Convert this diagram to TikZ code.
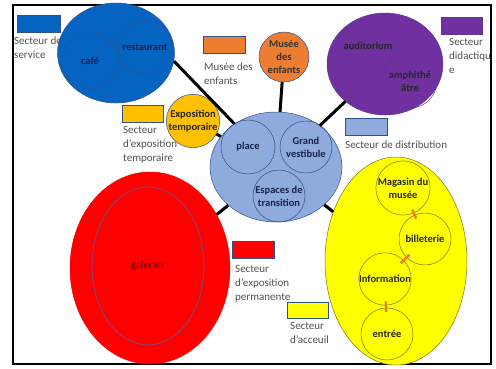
\documentclass[tikz,border=0pt]{standalone}
\usepackage{fontspec}
\setmainfont{Carlito}
\usetikzlibrary{shapes.geometric}

\definecolor{servblue}{RGB}{5,99,193}
\definecolor{servline}{RGB}{47,82,143}
\definecolor{didpurple}{RGB}{112,48,160}
\definecolor{didline}{RGB}{95,55,150}
\definecolor{kidorange}{RGB}{237,125,49}
\definecolor{tempgold}{RGB}{255,192,0}
\definecolor{distblue}{RGB}{143,170,220}
\definecolor{permred}{RGB}{255,0,0}
\definecolor{permline}{RGB}{140,60,110}
\definecolor{accyellow}{RGB}{255,255,0}
\definecolor{accline}{RGB}{120,120,20}
\definecolor{navytext}{RGB}{25,35,75}
\definecolor{capgray}{RGB}{80,80,80}
\definecolor{tieorange}{RGB}{237,125,49}

\begin{document}
\begin{tikzpicture}[x=1pt,y=-1pt,
    zone/.style={ellipse, inner sep=0pt, line width=0.5pt},
    room/.style={circle, draw, inner sep=0pt, minimum size=52pt, line width=0.5pt,
                 align=center, font=\bfseries\fontsize{10.5}{13}\selectfont},
    swatch/.style={rectangle, inner sep=0pt, minimum width=42pt, minimum height=17pt,
                   line width=0.4pt},
    caption/.style={anchor=north west, align=left, inner sep=0pt, text=capgray,
                    font=\fontsize{11}{14}\selectfont},
    link/.style={line width=3pt},
    tie/.style={draw=tieorange, line width=2.5pt, shorten <=-4pt, shorten >=-4pt}
]
\useasboundingbox (0,0) rectangle (496,368);
\draw[line width=2pt] (13,5) rectangle (491,364);

%% secteur de service
\node[zone, fill=servblue, draw=servline, minimum width=117pt, minimum height=100pt] (service) at (116,53) {};
\node[room, draw=servline, minimum size=56pt, text=navytext] (cafe) at (90,61) {café};
\node[room, draw=servline, minimum size=54pt, text=navytext] (resto) at (145,47) {restaurant};

%% musee des enfants
\node[room, fill=kidorange, draw=servline, minimum size=50pt, text=black!80] (kids) at (284,57) {Musée\\des\\enfants};

%% secteur didactique
\node[zone, fill=didpurple, draw=didline, minimum width=116pt, minimum height=102pt] (didact) at (385,64) {};
\node[room, draw=didline, minimum size=54pt, text=black!85] (audit) at (368,46) {auditorium};
\node[room, draw=didline, minimum size=54pt, text=black!85] (amphi) at (410,81) {amphithé\\âtre};

%% exposition temporaire
\node[room, fill=tempgold, draw=servline, text=black!85] (temp) at (193,121) {Exposition\\temporaire};

%% secteur de distribution
\node[zone, fill=distblue, draw=servline, minimum width=132pt, minimum height=110pt] (distrib) at (276,167) {};
\node[room, draw=servline, minimum size=54pt, text=navytext] (place) at (248,147) {place};
\node[room, draw=servline, text=navytext] (vesti) at (306,147) {Grand\\vestibule};
\node[room, draw=servline, text=navytext] (trans) at (279,196) {Espaces de\\transition};

%% exposition permanente
\node[zone, fill=permred, draw=permred, minimum width=160pt, minimum height=192pt] (perm) at (150,268) {};
\node[zone, draw=permline, line width=1pt, minimum width=112pt, minimum height=158pt,
      text=red!50!black, font=\bfseries\fontsize{10.5}{13}\selectfont] (galer) at (148,266) {galeries};

%% secteur d'acceuil
\node[zone, fill=accyellow, draw=accline, minimum width=142pt, minimum height=208pt] (accueil) at (396,261) {};
\node[room, draw=accline, text=black!85] (shop) at (403,188) {Magasin du\\musée};
\node[room, draw=accline, text=black!85] (ticket) at (425,239) {billeterie};
\node[room, draw=accline, text=black!85] (info) at (385,279) {Information};
\node[room, draw=accline, text=black!85] (entry) at (387,334) {entrée};

%% liaisons
\draw[link] (service.-8) -- (distrib);
\draw[link] (distrib) -- (kids);
\draw[link] (distrib) -- (didact);
\draw[link] (distrib) -- (temp);
\draw[link] (distrib) -- (perm);
\draw[link] (distrib) -- (accueil);
\draw[tie] (shop) -- (ticket);
\draw[tie] (ticket) -- (info);
\draw[tie] (info) -- (entry);

%% legende
\node[swatch, fill=servblue, draw=servline, minimum width=43pt] (keyserv) at (38.5,23.5) {};
\node[caption] (capserv) at (14,37) {Secteur de\\service};
\node[swatch, fill=kidorange, draw=servline] (keykids) at (224,44.5) {};
\node[caption] (capkids) at (204,63) {Musée des\\enfants};
\node[swatch, fill=didpurple, draw=didline, minimum width=41pt] (keydid) at (461.5,25.5) {};
\node[caption] (capdid) at (449,38) {Secteur\\didactiqu\\e};
\node[swatch, fill=tempgold, draw=servline, minimum width=41pt] (keytemp) at (142.5,113.5) {};
\node[caption] (captemp) at (123,126) {Secteur\\d'exposition\\temporaire};
\node[swatch, fill=distblue, draw=servline] (keydist) at (366,126.5) {};
\node[caption] (capdist) at (345,141) {Secteur de distribution};
\node[swatch, fill=permred, draw=servline] (keyperm) at (253,249.5) {};
\node[caption] (capperm) at (235,265) {Secteur\\d'exposition\\permanente};
\node[swatch, fill=accyellow, draw=servline, minimum width=41pt, minimum height=16pt] (keyacc) at (307.5,310) {};
\node[caption] (capacc) at (290,322) {Secteur\\d'acceuil};
\end{tikzpicture}
\end{document}
